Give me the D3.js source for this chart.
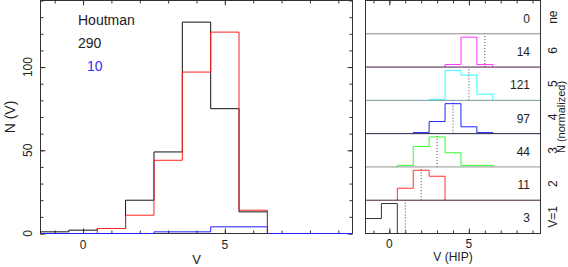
<!DOCTYPE html>
<html>
<head>
<meta charset="utf-8">
<script src="https://cdn.jsdelivr.net/npm/d3@7"></script>
<style>
body { margin: 0; background: #fff; }
svg text { font-family: "Liberation Sans", Arial, sans-serif; fill: #222; }
</style>
</head>
<body>
<div id="chart"></div>
<script>
// DATA: histograms in bins of width 1 centred on integer V
const binCentres = [-1, 0, 1, 2, 3, 4, 5, 6, 7, 8, 9];
const houtmanCounts = [1, 2, 3, 20, 49, 127, 75, 13, 0, 0, 0];
const hipCounts = [0, 0, 3, 11, 44, 97, 121, 14, 0, 0, 0];
const houtmanOnlyCounts = [0, 0, 0, 0, 1, 1, 4, 4, 0, 0, 0];
const legendName = "Houtman";
const legendTotal = "290";
const legendOnly = "10";

// right panel rows, top to bottom
const rowLabels = ["ne", "6", "5", "4", "3", "2", "V=1"];
const rowTotals = [0, 14, 121, 97, 44, 11, 3];
const rowVmag = [null, 6, 5, 4, 3, 2, 1];
const rowCounts = [
    [0, 0, 0, 0, 0, 0, 0, 0, 0, 0, 0],
    [0, 0, 0, 0, 0, 1, 12, 1, 0, 0, 0],
    [0, 0, 0, 0, 2, 58, 49, 12, 0, 0, 0],
    [0, 0, 0, 2, 23, 57, 13, 2, 0, 0, 0],
    [0, 0, 1, 13, 19, 9, 1, 1, 0, 0, 0],
    [0, 0, 2, 5, 4, 0, 0, 0, 0, 0, 0],
    [1, 2, 0, 0, 0, 0, 0, 0, 0, 0, 0]
];
const rowColors = ["#000", "#ff30ff", "#30ffff", "#2020ff", "#30ff30", "#ff3030", "#333"];
const dividerColors = [null, "#888", "#4a1a4a", "#7a9a9a", "#252545", "#8a9a8a", "#452525"];

const xTicksMinor = d3.range(-1, 10);
const xTicksMajor = [0, 5];
const yTicksMinor = d3.range(0, 141, 10);
const yTicksMajor = [0, 50, 100];

const W = 568, H = 267;
const svg = d3.select("#chart").append("svg")
    .attr("width", W)
    .attr("height", H);

const axisColor = "#333";

// step path helper: from first to last index, starting and ending on zero
function stepPoints(counts, from, to) {
    const pts = [[binCentres[from] - 0.5, 0]];
    for (let i = from; i <= to; i++) {
        pts.push([binCentres[i] - 0.5, counts[i]]);
        pts.push([binCentres[i] + 0.5, counts[i]]);
    }
    pts.push([binCentres[to] + 0.5, 0]);
    return pts;
}

function addAxis(g, axis, tx, ty) {
    const a = g.append("g").attr("transform", `translate(${tx},${ty})`).call(axis);
    a.select(".domain").remove();
    a.selectAll("line").attr("stroke", axisColor);
}

// 1: LEFT PANEL
const xL = d3.scaleLinear().domain([-1.5, 9.5]).range([40.5, 352.5]);
const yL = d3.scaleLinear().domain([0, 140]).range([233.5, 0.5]);

const left = svg.append("g");

left.append("rect")
    .attr("x", xL.range()[0]).attr("y", yL.range()[1])
    .attr("width", xL.range()[1] - xL.range()[0])
    .attr("height", yL.range()[0] - yL.range()[1])
    .attr("fill", "none").attr("stroke", axisColor);

addAxis(left, d3.axisBottom(xL).tickValues(xTicksMinor).tickSize(-3).tickFormat(""), 0, yL(0));
addAxis(left, d3.axisBottom(xL).tickValues(xTicksMajor).tickSize(-5).tickFormat(""), 0, yL(0));
addAxis(left, d3.axisTop(xL).tickValues(xTicksMinor).tickSize(-3).tickFormat(""), 0, yL(140));
addAxis(left, d3.axisTop(xL).tickValues(xTicksMajor).tickSize(-5).tickFormat(""), 0, yL(140));
addAxis(left, d3.axisLeft(yL).tickValues(yTicksMinor).tickSize(-3).tickFormat(""), xL(-1.5), 0);
addAxis(left, d3.axisLeft(yL).tickValues(yTicksMajor).tickSize(-5).tickFormat(""), xL(-1.5), 0);
addAxis(left, d3.axisRight(yL).tickValues(yTicksMinor).tickSize(-3).tickFormat(""), xL(9.5), 0);
addAxis(left, d3.axisRight(yL).tickValues(yTicksMajor).tickSize(-5).tickFormat(""), xL(9.5), 0);

const lineL = d3.line().x(d => xL(d[0])).y(d => yL(d[1]));
const n = binCentres.length - 1;

left.append("path").datum(stepPoints(houtmanCounts, 0, n))
    .attr("fill", "none").attr("stroke", "#111").attr("d", lineL);
left.append("path").datum(stepPoints(hipCounts, 0, n))
    .attr("fill", "none").attr("stroke", "#ff2020").attr("d", lineL);
left.append("path").datum(stepPoints(houtmanOnlyCounts, 0, n))
    .attr("fill", "none").attr("stroke", "#2020ff").attr("d", lineL);

// tick labels
left.selectAll(".xlab").data(xTicksMajor).enter().append("text")
    .attr("x", d => xL(d)).attr("y", 249)
    .attr("text-anchor", "middle").style("font-size", "12px")
    .text(d => d);
left.selectAll(".ylab").data(yTicksMajor).enter().append("text")
    .attr("transform", d => `translate(32,${yL(d)}) rotate(-90)`)
    .attr("text-anchor", "middle").style("font-size", "12px")
    .text(d => d);

left.append("text").attr("x", (xL.range()[0] + xL.range()[1]) / 2).attr("y", 264)
    .attr("text-anchor", "middle").style("font-size", "13px").text("V");
left.append("text").attr("transform", `translate(15,${(yL.range()[0] + yL.range()[1]) / 2}) rotate(-90)`)
    .attr("text-anchor", "middle").style("font-size", "14px").text("N (V)");

left.append("text").attr("x", 78).attr("y", 25).style("font-size", "14px").text(legendName);
left.append("text").attr("x", 78).attr("y", 48).style("font-size", "14px").text(legendTotal);
left.append("text").attr("x", 87).attr("y", 71).style("font-size", "14px")
    .style("fill", "#3030ff").text(legendOnly);

// 2: RIGHT PANEL
const xR = d3.scaleLinear().domain([-1.5, 9.5]).range([365.5, 540.5]);
const panelTop = 0.5, panelBottom = 233.5;
const rowH = (panelBottom - panelTop) / rowLabels.length;

const right = svg.append("g");

rowLabels.forEach((lab, i) => {
    const top = panelTop + i * rowH;
    const bottom = top + rowH;
    const maxC = d3.max(rowCounts[i]);
    const yR = d3.scaleLinear().domain([0, maxC > 0 ? maxC / 0.9 : 1]).range([bottom, top]);

    if (i > 0) {
        right.append("line")
            .attr("x1", xR.range()[0]).attr("x2", xR.range()[1])
            .attr("y1", top).attr("y2", top)
            .attr("stroke", dividerColors[i]);
    }

    if (maxC > 0) {
        const nz = rowCounts[i].map((c, k) => c > 0 ? k : -1).filter(k => k >= 0);
        const lineR = d3.line().x(d => xR(d[0])).y(d => yR(d[1]));
        right.append("path").datum(stepPoints(rowCounts[i], nz[0], nz[nz.length - 1]))
            .attr("fill", "none").attr("stroke", rowColors[i]).attr("d", lineR);
    }

    if (rowVmag[i] !== null) {
        right.append("line")
            .attr("x1", xR(rowVmag[i])).attr("x2", xR(rowVmag[i]))
            .attr("y1", bottom).attr("y2", top)
            .attr("stroke", "#444").attr("stroke-dasharray", "1,2");
    }

    right.append("text")
        .attr("x", 530).attr("y", (top + bottom) / 2 + 5.5)
        .attr("text-anchor", "end").style("font-size", "12px")
        .text(rowTotals[i]);

    right.append("text")
        .attr("transform", `translate(557,${(top + bottom) / 2}) rotate(-90)`)
        .attr("text-anchor", "middle").style("font-size", "12px")
        .text(lab);
});

right.append("rect")
    .attr("x", xR.range()[0]).attr("y", panelTop)
    .attr("width", xR.range()[1] - xR.range()[0])
    .attr("height", panelBottom - panelTop)
    .attr("fill", "none").attr("stroke", axisColor);

addAxis(right, d3.axisBottom(xR).tickValues(xTicksMinor).tickSize(-3).tickFormat(""), 0, panelBottom);
addAxis(right, d3.axisBottom(xR).tickValues(xTicksMajor).tickSize(-5).tickFormat(""), 0, panelBottom);
addAxis(right, d3.axisTop(xR).tickValues(xTicksMinor).tickSize(-3).tickFormat(""), 0, panelTop);
addAxis(right, d3.axisTop(xR).tickValues(xTicksMajor).tickSize(-5).tickFormat(""), 0, panelTop);

right.selectAll(".xlab").data(xTicksMajor).enter().append("text")
    .attr("x", d => xR(d)).attr("y", 248)
    .attr("text-anchor", "middle").style("font-size", "12px")
    .text(d => d);

right.append("text").attr("x", (xR.range()[0] + xR.range()[1]) / 2).attr("y", 261)
    .attr("text-anchor", "middle").style("font-size", "12px").text("V (HIP)");
right.append("text").attr("transform", `translate(565,${(panelTop + panelBottom) / 2}) rotate(-90)`)
    .attr("text-anchor", "middle").style("font-size", "11px").text("N (normalized)");
</script>
</body>
</html>
